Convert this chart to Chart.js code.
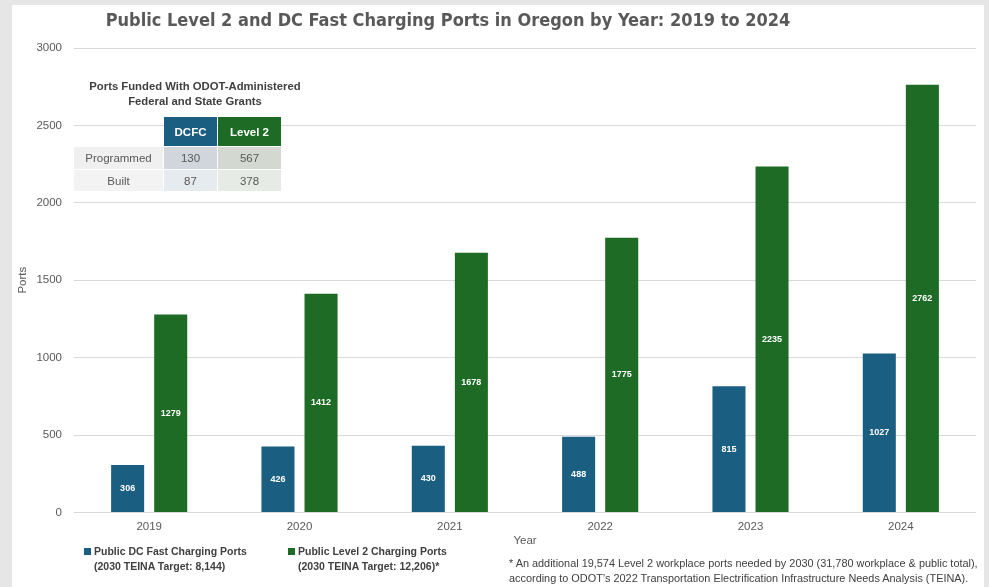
<!DOCTYPE html>
<html>
<head>
<meta charset="utf-8">
<script src="https://cdn.jsdelivr.net/npm/chart.js@4.4.1/dist/chart.umd.min.js"></script>
<style>
  html, body { margin: 0; padding: 0; }
  body { width: 989px; height: 587px; background: #e6e6e6; position: relative; overflow: hidden;
         font-family: "Liberation Sans", "Noto Sans", sans-serif; }
  #panel { position: absolute; left: 12px; top: 5px; width: 972px; height: 590px; background: #ffffff; }
  #wrap { position: absolute; left: 0; top: 0; width: 989px; height: 587px; }
  .title { position: absolute; left: 48px; width: 800px; top: 8px; text-align: center; color: #595959;
           font-family: "Liberation Sans Narrow", "DejaVu Sans Condensed", sans-serif; font-weight: bold; font-size: 18px; line-height: 24px; }
  .grant { position: absolute; left: 60px; top: 79px; width: 270px; color: #404040; }
  .grant .cap { text-align: center; font-weight: bold; font-size: 11.3px; line-height: 15px; }
  .grant table { position: absolute; left: 13px; top: 37px; border-collapse: separate; border-spacing: 1px; font-size: 11.5px; }
  .grant td { padding: 0; text-align: center; color: #595959; }
  .grant th { padding: 0; text-align: center; color: #ffffff; font-weight: bold; font-size: 11.5px; height: 29px; }
  .legend { position: absolute; top: 544px; font-size: 10.5px; font-weight: bold; color: #404040; line-height: 15px; }
  .legend .sw { display: inline-block; width: 7px; height: 7px; margin-right: 3px; }
  .note { position: absolute; left: 509px; top: 556px; font-size: 10.9px; color: #404040; line-height: 15px; }
</style>
</head>
<body>
<div id="panel"></div>
<div id="wrap"><canvas id="c" width="989" height="587"></canvas></div>

<div class="title">Public Level 2 and DC Fast Charging Ports in Oregon by Year: 2019 to 2024</div>

<div class="grant">
  <div class="cap">Ports Funded With ODOT-Administered<br>Federal and State Grants</div>
  <table id="grantTable"></table>
</div>

<div class="legend" style="left:84px;"><span class="sw" style="background:#1a5e82"></span>Public DC Fast Charging Ports<br><span style="padding-left:10px">(2030 TEINA Target: 8,144)</span></div>
<div class="legend" style="left:288px;"><span class="sw" style="background:#1d6b24"></span>Public Level 2 Charging Ports<br><span style="padding-left:10px">(2030 TEINA Target: 12,206)*</span></div>
<div class="note">* An additional 19,574 Level 2 workplace ports needed by 2030 (31,780 workplace &amp; public total),<br>according to ODOT’s 2022 Transportation Electrification Infrastructure Needs Analysis (TEINA).</div>

<script>
// Yearly counts of public charging ports in Oregon
const years = ['2019', '2020', '2021', '2022', '2023', '2024'];
const dcfcPorts = [306, 426, 430, 488, 815, 1027];
const level2Ports = [1279, 1412, 1678, 1775, 2235, 2762];

// Grant-funded ports table
const grantRows = ['Programmed', 'Built'];
const grantDcfc = [130, 87];
const grantLevel2 = [567, 378];

const BLUE = '#1a5e82';
const GREEN = '#1d6b24';

// Build the grant table
(function () {
  const t = document.getElementById('grantTable');
  let html = '<tr><td style="width:89px"></td>' +
    '<th style="width:53px;background:' + BLUE + '">DCFC</th>' +
    '<th style="width:63px;background:' + GREEN + '">Level 2</th></tr>';
  const rowBg = ['#f0f0f0', '#f3f3f3'];
  const dBg = ['#d0d6dc', '#e6ebef'];
  const lBg = ['#d3d9d0', '#e7ebe6'];
  grantRows.forEach((r, i) => {
    html += '<tr style="height:' + (i === 0 ? 22 : 21) + 'px">' +
      '<td style="background:' + rowBg[i] + '">' + r + '</td>' +
      '<td style="background:' + dBg[i] + '">' + grantDcfc[i] + '</td>' +
      '<td style="background:' + lBg[i] + '">' + grantLevel2[i] + '</td></tr>';
  });
  t.innerHTML = html;
})();

// Value labels centred inside each bar
const barValueLabels = {
  id: 'barValueLabels',
  afterDatasetsDraw(chart) {
    const ctx = chart.ctx;
    ctx.save();
    ctx.fillStyle = '#ffffff';
    ctx.font = 'bold 9px "Liberation Sans", sans-serif';
    ctx.textAlign = 'center';
    ctx.textBaseline = 'middle';
    chart.data.datasets.forEach((ds, di) => {
      const meta = chart.getDatasetMeta(di);
      meta.data.forEach((bar, i) => {
        const mid = (bar.y + bar.base) / 2;
        ctx.fillText(String(ds.data[i]), bar.x, mid);
      });
    });
    ctx.restore();
  }
};

const tickFont = { size: 11.5, family: '"Liberation Sans", sans-serif' };

new Chart(document.getElementById('c'), {
  type: 'bar',
  data: {
    labels: years,
    datasets: [
      { label: 'Public DC Fast Charging Ports', data: dcfcPorts, backgroundColor: BLUE,
        categoryPercentage: 0.573, barPercentage: 0.767 },
      { label: 'Public Level 2 Charging Ports', data: level2Ports, backgroundColor: GREEN,
        categoryPercentage: 0.573, barPercentage: 0.767 }
    ]
  },
  options: {
    responsive: false,
    animation: false,
    layout: { padding: { left: 6, right: 13, top: 48, bottom: 39 } },
    plugins: {
      legend: { display: false },
      tooltip: { enabled: false },
      title: { display: false }
    },
    scales: {
      x: {
        grid: { display: false },
        border: { display: false },
        ticks: { color: '#595959', font: tickFont, padding: 0 },
        title: { display: true, text: 'Year', color: '#595959', font: tickFont, padding: { top: 0, bottom: 0 } }
      },
      y: {
        min: 0, max: 3000,
        afterFit: (scale) => { scale.width = 68; },
        ticks: { stepSize: 500, color: '#595959', font: tickFont, padding: 12,
                 callback: (v) => String(v) },
        grid: { color: '#d9d9d9', drawTicks: false },
        border: { display: false },
        title: { display: true, text: 'Ports', color: '#595959', font: tickFont, padding: { top: 10, bottom: 0 } }
      }
    }
  },
  plugins: [barValueLabels]
});
</script>
</body>
</html>
